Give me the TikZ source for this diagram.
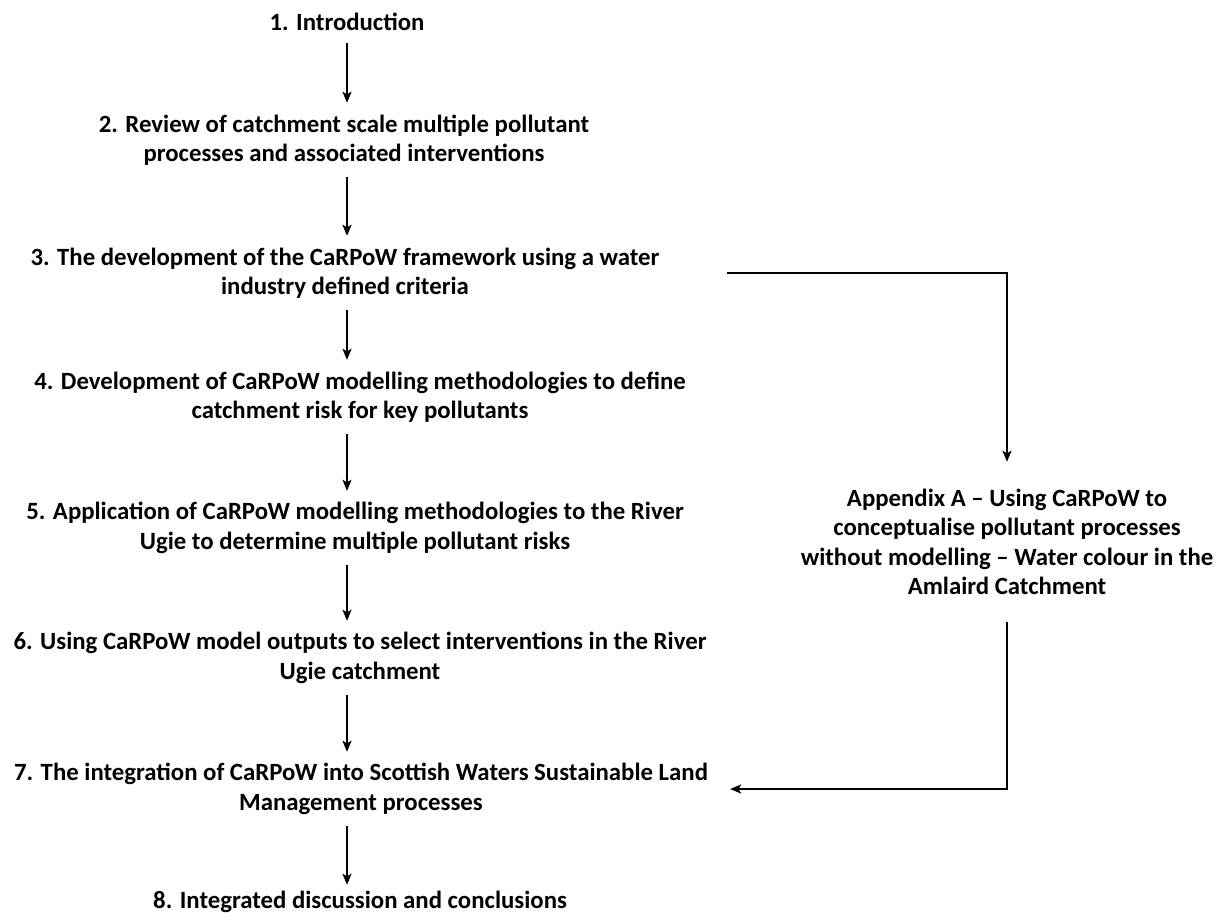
\documentclass[tikz,border=0pt]{standalone}
\usepackage{fontspec}
\setmainfont{Carlito}
\usetikzlibrary{arrows.meta}
\begin{document}
\begin{tikzpicture}[x=1pt,y=-1pt,
  stage/.style={font=\bfseries\fontsize{24.8}{29.5}\selectfont, align=center, inner sep=0pt},
  twoline/.style={stage, minimum height=74pt},
  flow/.style={-{Stealth[length=11pt,width=9pt,inset=2.5pt]}, line width=2.2pt},
  flowthin/.style={flow, line width=1.5pt}]
\useasboundingbox (0,0) rectangle (1231,919);

% spine of the main chapter sequence
\coordinate (spine) at (347,0);

\node[stage, minimum height=42pt] (s1) at (347,22) {1. Introduction};
\node[twoline] (s2) at (344,140) {2. Review of catchment scale multiple pollutant\\processes and associated interventions};
\node[twoline] (s3) at (345,273) {3. The development of the CaRPoW framework using a water\\industry defined criteria};
\node[twoline] (s4) at (360,397) {4. Development of CaRPoW modelling methodologies to define\\catchment risk for key pollutants};
\node[twoline] (s5) at (355,528) {5. Application of CaRPoW modelling methodologies to the River\\Ugie to determine multiple pollutant risks};
\node[twoline] (s6) at (360,658) {6. Using CaRPoW model outputs to select interventions in the River\\Ugie catchment};
\node[twoline] (s7) at (361,789) {7. The integration of CaRPoW into Scottish Waters Sustainable Land\\Management processes};
\node[stage, minimum height=34pt] (s8) at (360,902) {8. Integrated discussion and conclusions};

% side branch
\node[stage, minimum height=160pt] (app) at (1007,542) {Appendix A – Using CaRPoW to\\conceptualise pollutant processes\\without modelling – Water colour in the\\Amlaird Catchment};

% main sequence
\draw[flow] (s1.south -| spine) -- (s2.north -| spine);
\draw[flow] (s2.south -| spine) -- (s3.north -| spine);
\draw[flowthin] (s3.south -| spine) -- (s4.north -| spine);
\draw[flowthin] (s4.south -| spine) -- (s5.north -| spine);
\draw[flow] (s5.south -| spine) -- (s6.north -| spine);
\draw[flow] (s6.south -| spine) -- (s7.north -| spine);
\draw[flow] (s7.south -| spine) -- (s8.north -| spine);

% branch out to the appendix and back in
\draw[flow] ([xshift=67pt]s3.east) -| (app.north);
\draw[flow] (app.south) |- ([xshift=22pt]s7.east);
\end{tikzpicture}
\end{document}
